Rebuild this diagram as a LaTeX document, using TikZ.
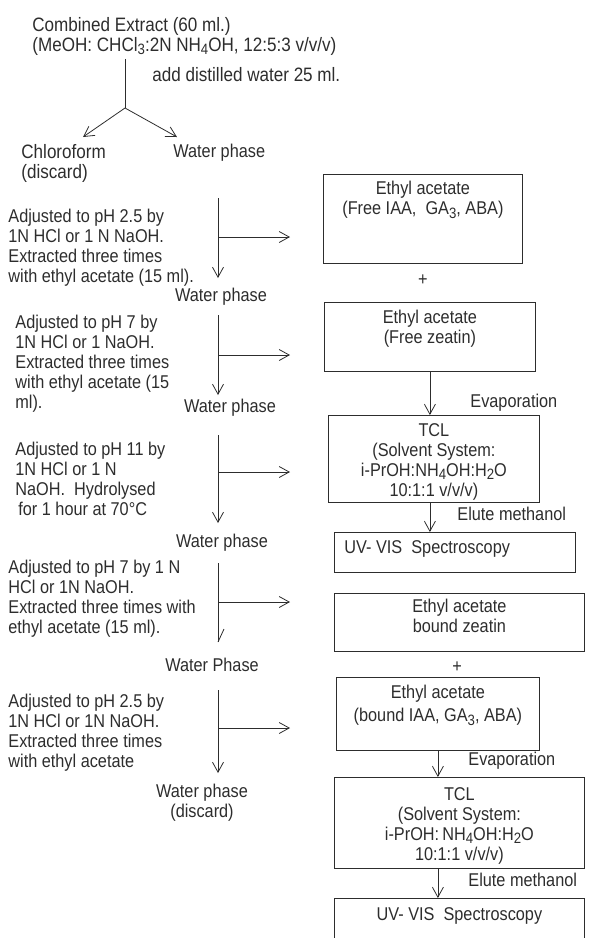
\documentclass[tikz,border=0pt]{standalone}
\usepackage{fontspec}
\setmainfont{Liberation Sans}[FakeStretch=0.88]
\usepackage{tikz}
\usetikzlibrary{arrows.meta}
\usetikzlibrary{positioning}

\definecolor{ink}{RGB}{45,45,45}
\newcommand{\lowr}[1]{\raisebox{-0.18em}{\fontsize{15}{15}\selectfont #1}}

\begin{document}
\begin{tikzpicture}[x=1pt, y=1pt, line width=0.8pt, color=ink,
    every node/.style={font=\fontsize{18.5}{20}\selectfont, inner sep=0pt, text=ink},
    big/.style={font=\fontsize{19.4}{20}\selectfont},
    txt/.style={align=left, anchor=north west},
    mid/.style={align=center, anchor=north},
    panel/.style={draw, anchor=north west},
    arr/.style={-{Straight Barb[length=10pt, width=11pt]}}]

            % fix page size
            \useasboundingbox (0,0) rectangle (590,-938);
            \clip (0,0) rectangle (590,-938);

            % draw first split
            \node[txt, big] (mix) at (32,-17) {Combined Extract (60 ml.)\\(MeOH: CHCl\lowr{3}:2N NH\lowr{4}OH, 12:5:3 v/v/v)};
            \node[txt, big] (add) at (152,-67) {add distilled water 25 ml.};
            \node[txt, big] (chl) at (21,-144) {Chloroform\\(discard)};
            \node[txt] (wp0) at (173,-144) {Water phase};
            \coordinate (split) at (125,-108);
            \coordinate (tipl) at (83,-137);
            \coordinate (tipr) at (177,-137);
            \draw[shorten <=3pt] (mix.south -| split) -- (split);
            \draw[arr] (split) -- (tipl);
            \draw[arr] (split) -- (tipr);

            % draw left column texts
            \node[txt] (adj1) at (8,-209) {Adjusted to pH 2.5 by\\1N HCl or 1 N NaOH.\\Extracted three times\\with ethyl acetate (15 ml).};
            \node[mid] (wp1) at (221,-288) {Water phase};
            \node[txt] (adj2) at (15,-315) {Adjusted to pH 7 by\\1N HCl or 1 NaOH.\\Extracted three times\\with ethyl acetate (15\\ml).};
            \node[mid] (wp2) at (230,-399) {Water phase};
            \node[txt] (adj3) at (15,-442) {Adjusted to pH 11 by\\1N HCl or 1 N\\NaOH.\ \ Hydrolysed\\\hspace{3pt}for 1 hour at 70°C};
            \node[mid] (wp3) at (222,-534) {Water phase};
            \node[txt] (adj4) at (8,-560) {Adjusted to pH 7 by 1 N\\HCl or 1N NaOH.\\Extracted three times with\\ethyl acetate (15 ml).};
            \node[mid] (wp4) at (212,-658) {Water Phase};
            \node[txt] (adj5) at (8,-694) {Adjusted to pH 2.5 by\\1N HCl or 1N NaOH.\\Extracted three times\\with ethyl acetate};
            \node[mid] (wp5) at (202,-784) {Water phase\\(discard)};

            % draw water phase lines
            \foreach \i/\ya/\yb in {1/198/278, 2/315/395, 3/435/523, 5/690/773} {
                \coordinate (va\i) at (218,-\ya);
                \coordinate (vb\i) at (218,-\yb);
                \draw[arr] (va\i) -- (vb\i);
            }
            \coordinate (va4) at (218,-563);
            \coordinate (vb4) at (218,-642);
            \draw (va4) -- (vb4);
            \draw (vb4) -- ++(6,13);

            % draw extract arrows
            \foreach \i/\yh in {1/237, 2/355, 3/472, 4/602, 5/728} {
                \coordinate (ha\i) at (218,-\yh);
                \coordinate (hb\i) at (290,-\yh);
                \draw[arr] (ha\i) -- (hb\i);
            }

            % draw upper boxes
            \node[panel, minimum width=199pt, minimum height=89pt] (fia) at (323,-174) {};
            \node[mid, below=7pt of fia.north] (fiat) {Ethyl acetate\\(Free IAA,\ \ GA\lowr{3}, ABA)};
            \node (plus1) at (423,-280) {+};
            \node[panel, minimum width=211pt, minimum height=69pt] (frz) at (324,-302) {};
            \node[mid, below=8pt of frz.north] (frzt) {Ethyl acetate\\(Free zeatin)};
            \node[panel, minimum width=211pt, minimum height=87pt] (tcl1) at (328,-415) {};
            \node[mid, below=8pt of tcl1.north] (tcl1t) {TCL\\(Solvent System:\\i-PrOH:NH\lowr{4}OH:H\lowr{2}O\\10:1:1 v/v/v)};
            \node[panel, minimum width=241pt, minimum height=40pt] (uv1) at (334,-532) {};
            \node[txt, below right=8pt and 10pt of uv1.north west] (uv1t) {UV- VIS\ \ Spectroscopy};
            \node[anchor=base west] (evap1) at (470,-407) {Evaporation};
            \node[anchor=base west] (elu1) at (457,-520) {Elute methanol};
            \draw[arr] (frz.south) -- (tcl1.north -| frz.south);
            \draw[arr] (tcl1.south -| frz.south) -- (uv1.north -| frz.south);

            % draw lower boxes
            \node[panel, minimum width=250pt, minimum height=58pt] (bz) at (334,-593) {};
            \node[mid, below=6pt of bz.north] (bzt) {Ethyl acetate\\bound zeatin};
            \node (plus2) at (457,-667) {+};
            \node[panel, minimum width=203pt, minimum height=73pt] (bia) at (336,-677) {};
            \node[mid, below=8pt of bia.north] (biat) {Ethyl acetate\\[3pt](bound IAA, GA\lowr{3}, ABA)};
            \node[panel, minimum width=250pt, minimum height=91pt] (tcl2) at (334,-777) {};
            \node[mid, below=10pt of tcl2.north] (tcl2t) {TCL\\(Solvent System:\\i-PrOH:\,NH\lowr{4}OH:H\lowr{2}O\\10:1:1 v/v/v)};
            \node[panel, minimum width=250pt, minimum height=70pt] (uv2) at (334,-898) {};
            \node[mid, below=9pt of uv2.north] (uv2t) {UV- VIS\ \ Spectroscopy};
            \node[anchor=base west] (evap2) at (468,-765) {Evaporation};
            \node[anchor=base west] (elu2) at (468,-886) {Elute methanol};
            \draw[arr] (bia.south) -- (tcl2.north -| bia.south);
            \draw[arr] (tcl2.south -| bia.south) -- (uv2.north -| bia.south);
\end{tikzpicture}
\end{document}
